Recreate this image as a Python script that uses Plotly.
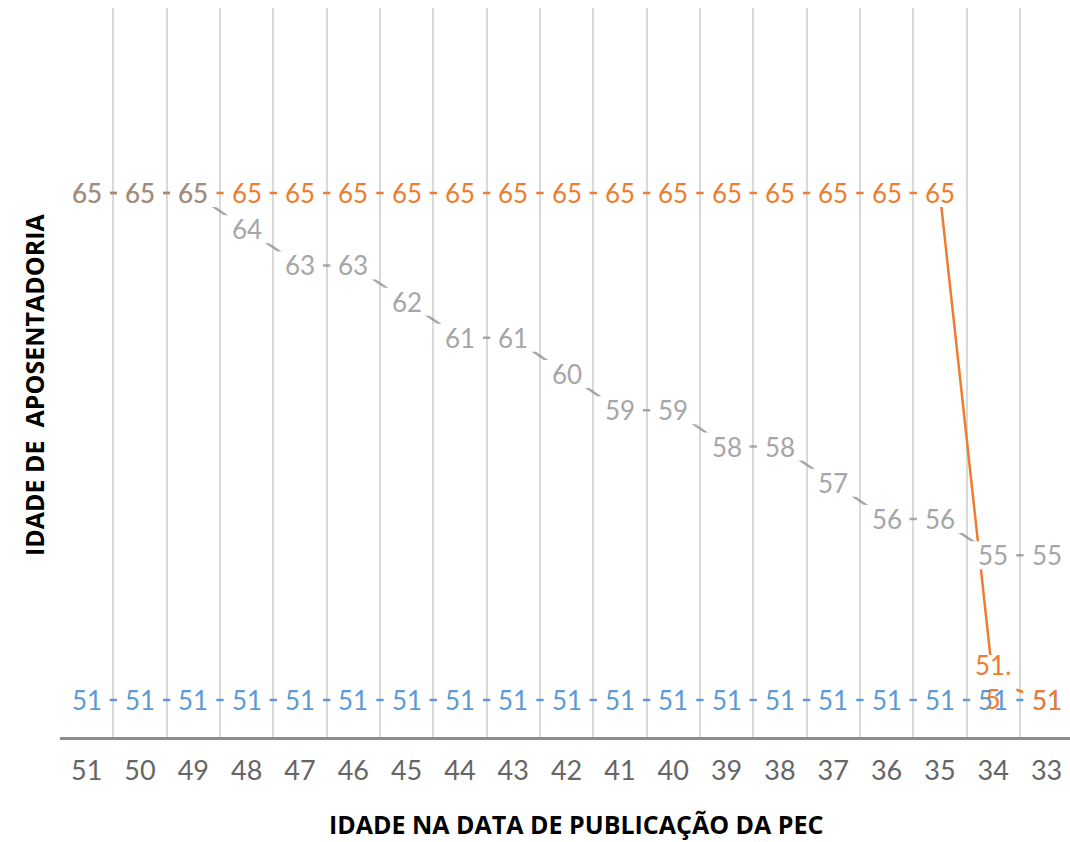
import plotly.graph_objects as go

# ---- data ----
ages_at_pec = ["51", "50", "49", "48", "47", "46", "45", "44", "43", "42",
               "41", "40", "39", "38", "37", "36", "35", "34", "33"]
serie_azul = [51, 51, 51, 51, 51, 51, 51, 51, 51, 51, 51, 51, 51, 51, 51, 51, 51, 51, 51]
serie_cinza = [65, 65, 65, 64, 63, 63, 62, 61, 61, 60, 59, 59, 58, 58, 57, 56, 56, 55, 55]
serie_laranja = [65, 65, 65, 65, 65, 65, 65, 65, 65, 65, 65, 65, 65, 65, 65, 65, 65, 51.5, 51]

BLUE = "#5b9bd5"
ORANGE = "#ed7d31"
GRAY_LINE = "rgba(140,140,140,0.75)"
GRAY_TEXT = "#a6a6a6"
TAUPE = "#a58b7a"
LABEL_FONT = "Lato"
LABEL_SIZE = 26

fig = go.Figure()

for vals, col in [(serie_azul, BLUE), (serie_laranja, ORANGE), (serie_cinza, GRAY_LINE)]:
    fig.add_trace(go.Scatter(x=ages_at_pec, y=vals, mode="lines",
                             line=dict(color=col, width=2.5),
                             hoverinfo="skip", showlegend=False))


def fmt(v):
    s = f"{v:g}"
    if "." in s:
        a, b = s.split(".")
        return a + ".<br>" + b
    return s


# category index positions (annotations on a category axis use the serial number)
label_sets = []
for i in range(len(ages_at_pec)):
    label_sets.append((i, serie_azul[i], BLUE))
for i in range(len(ages_at_pec)):
    label_sets.append((i, serie_cinza[i], GRAY_TEXT))
for i in range(len(ages_at_pec)):
    col = TAUPE if serie_laranja[i] == serie_cinza[i] else ORANGE
    label_sets.append((i, serie_laranja[i], col))

shapes = []
annotations = []
# white pixel-sized boxes that break the lines around each label
for x, v, col in label_sets:
    n_lines = fmt(v).count("<br>") + 1
    hw, hh = 23, 14 + 13 * (n_lines - 1)
    shapes.append(dict(type="rect", xref="x", yref="y", layer="above",
                       xsizemode="pixel", ysizemode="pixel", xanchor=x, yanchor=v,
                       x0=-hw, x1=hw, y0=-hh, y1=hh,
                       fillcolor="white", line=dict(width=0)))
# the label texts
for x, v, col in label_sets:
    annotations.append(dict(x=x, y=v, xref="x", yref="y", text=fmt(v), showarrow=False,
                            font=dict(family=LABEL_FONT, size=LABEL_SIZE, color=col),
                            xanchor="center", yanchor="middle"))

# axis titles
annotations.append(dict(x=0.511, y=0, xref="paper", yref="paper", yshift=-106,
                        text="<b>IDADE NA DATA DE PUBLICAÇÃO DA PEC</b>", showarrow=False,
                        font=dict(family="Open Sans", size=25, color="#000000"),
                        xanchor="center", yanchor="bottom"))
annotations.append(dict(x=-0.0257, y=0.483, xref="paper", yref="paper",
                        text="<b>IDADE DE  APOSENTADORIA</b>", showarrow=False, textangle=-90,
                        font=dict(family="Open Sans", size=25, color="#000000"),
                        xanchor="center", yanchor="middle"))

fig.update_layout(
    width=1070, height=842,
    margin=dict(l=60, r=0, t=8, b=105),
    paper_bgcolor="white", plot_bgcolor="white",
    xaxis=dict(type="category", categoryorder="array", categoryarray=ages_at_pec,
               range=[-0.5, 18.44], tickson="boundaries", showgrid=True,
               gridcolor="#d9d9d9", gridwidth=2, ticks="", showline=True,
               linecolor="#8c8c8c", linewidth=3,
               tickfont=dict(family=LABEL_FONT, size=27, color="#666666"),
               ticklabelstandoff=8, zeroline=False),
    yaxis=dict(range=[49.978, 70.109], showgrid=False, showticklabels=False,
               zeroline=False, showline=False, ticks=""),
    shapes=shapes,
    annotations=annotations,
)

fig.write_html("out.html", config={"displayModeBar": False},
               post_script="document.body.style.margin='0';")
